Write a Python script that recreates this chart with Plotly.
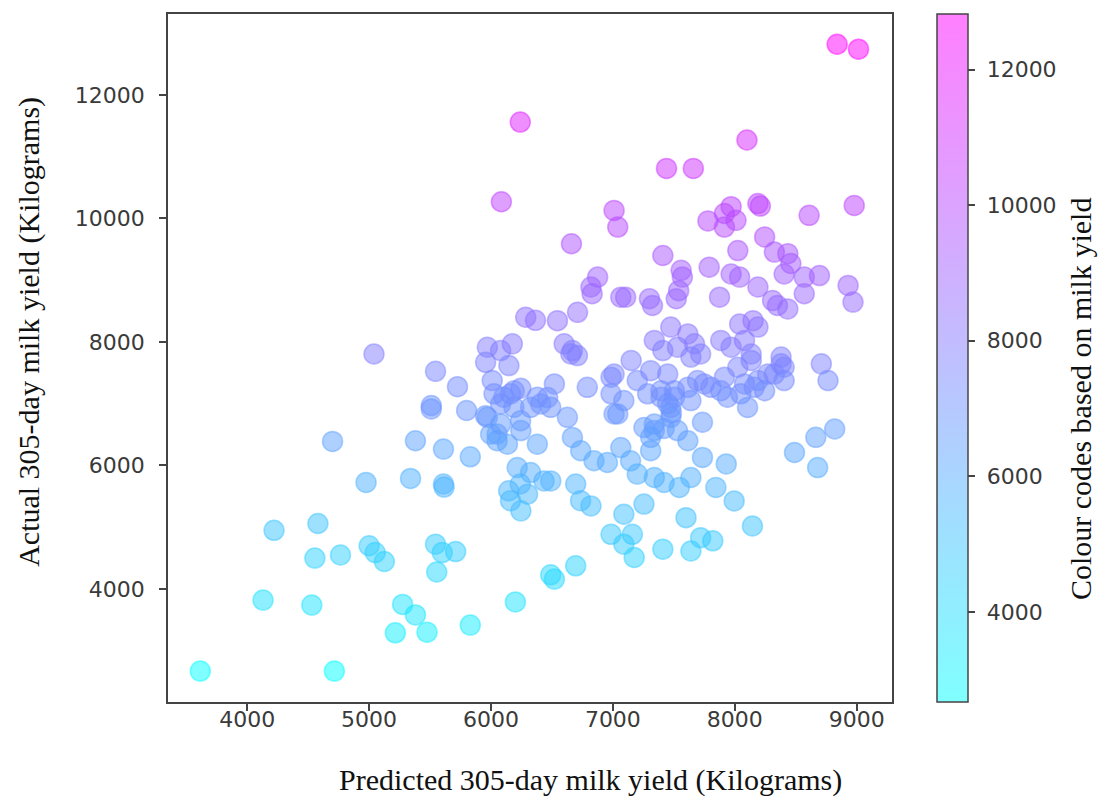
import plotly.graph_objects as go

# Predicted vs actual 305-day milk yield (kg) per cow
predicted = [
    3615, 4715, 4130, 4530, 4220, 4580, 4555, 4765, 4700, 4975, 5340, 5000, 5050, 5125,
    5275, 5380, 5215, 5475, 5830, 6200, 5545, 5600, 5710, 5555,
    5380, 5610, 5610, 5615, 5830, 5545, 5725, 5510, 5510, 5800, 5040,
    6490, 6520, 6695,
    5955, 6050, 6135, 6245, 6380, 6215, 6325, 6490, 6145, 6300, 6245, 6160, 6695, 6735, 6820,
    6627, 6668, 6736, 6845, 6955, 7010,
    6079, 6188, 6243, 6325, 6408, 6490, 5997, 6050, 6435, 5970, 6080, 6240,
    6190, 6105, 6380, 6010, 6160, 6245, 6520, 6465, 6025,
    5970, 6079, 6175, 5956, 6147, 6600, 6668, 6709, 6285, 6365, 6545, 6710, 6790, 6985, 6655,
    8840, 9015, 6240, 8100, 7440, 7660, 6085, 7010, 7040, 6660, 6875, 6820, 6830, 7065,
    7780, 7915, 7970, 8010, 7915, 8190, 8210, 8610, 8980,
    7410, 7560, 7570, 7790, 8025, 8245, 8325, 8435, 8460, 8405, 8570, 8695, 8040, 8190, 7970,
    7105, 7300, 7325, 7520, 7540, 7875, 8310, 8350, 8435, 8570, 8930, 8970,
    7475, 7615, 8040, 8150, 8190,
    7150, 7340, 7410, 7530, 7670, 7640, 7720, 7885, 7970, 8080, 8135, 8380, 8405, 8710, 8765,
    7010, 7200, 7310, 7450, 7505, 7695, 7805, 7915, 8025, 8135, 8080, 8190, 8270,
    6985, 7090, 7285, 7395, 7615, 7640,
    8820, 8665, 8490, 8680, 7735, 7615, 7735, 7930, 7640, 7545, 7420, 7340, 7845, 7995, 8145,
    7255, 7090, 7600, 6985, 7160, 7090, 7175, 7410, 7640, 7720, 7820,
    7040, 7255, 7340, 7475, 7065, 7145, 7200, 7310,
    7395, 7505, 7340, 7310, 7475, 7530, 7450, 7480, 7420,
    7750, 7885, 7940, 8050, 8105, 8160, 8245, 8325, 8380, 8405,
]
actual = [
    2670, 2670, 3820, 3740, 4950, 5060, 4500, 4550, 6390, 5725, 5790, 4700, 4590, 4445,
    3750, 3580, 3290, 3300, 3415, 3790, 4725, 4590, 4605, 4275,
    6400, 6265, 5700, 5650, 6140, 7525, 7275, 6970, 6915, 6890, 7805,
    4230, 4160, 4375,
    6805, 6510, 6345, 6565, 6345, 5965, 5885, 5750, 5590, 5535, 5265, 5430, 5700, 5430, 5345,
    6779, 6454, 6238, 6076, 6049, 6834,
    6996, 6941, 6725, 6941, 6996, 6941, 6509, 6400, 5750, 6780, 6670, 5700,
    7210, 7105, 7105, 7375, 7160, 7250, 7320, 7100, 7160,
    7914, 7860, 7969, 7670, 7617, 7969, 7860, 7779, 8400, 8350, 8345, 8480, 7265, 7430, 7807,
    12820, 12740, 11560, 11270, 10810, 10810, 10270, 10130, 9860, 9590, 9050, 8890, 8780, 8725,
    9960, 10080, 10190, 9970, 9860, 10240, 10200, 10050, 10210,
    9400, 9160, 9050, 9210, 9480, 9700, 9455, 9430, 9270, 9100, 9050, 9075, 9050, 8890, 9100,
    8725, 8700, 8590, 8700, 8830, 8725, 8670, 8590, 8535, 8780, 8915, 8645,
    8240, 8130, 8290, 8345, 8240,
    7700, 8025, 7860, 7915, 7970, 7755, 7805, 8025, 7915, 8025, 7805, 7755, 7590, 7645, 7375,
    7480, 7375, 7535, 7480, 7210, 7375, 7265, 7430, 7590, 7700, 7320, 7375, 7480,
    7160, 7050, 7160, 7105, 7265, 7050,
    6590, 6455, 6210, 5965, 6700, 6400, 6130, 6025, 5805, 5645, 5725, 5805, 5645, 5425, 5020,
    5375, 5210, 5155, 4885, 4885, 4725, 4510, 4645, 4615, 4830, 4780,
    6835, 6615, 6565, 6940, 6290, 6075, 5860, 6240,
    7210, 7105, 6670, 6455, 6780, 6565, 7000, 6850, 6600,
    7320, 7210, 7105, 7160, 6940, 7265, 7210, 7480, 7645, 7375,
]

x_ticks = [4000, 5000, 6000, 7000, 8000, 9000]
y_ticks = [4000, 6000, 8000, 10000, 12000]
cbar_ticktext = ["\u00a0" + str(v) for v in y_ticks]

x_title = "Predicted 305-day milk yield (Kilograms)"
y_title = "Actual 305-day milk yield (Kilograms)"
cbar_title = "Colour codes based on milk yield"

# "cool" colour map drawn at half transparency
cool_alpha = [[0.0, "rgba(0,255,255,0.5)"], [1.0, "rgba(255,0,255,0.5)"]]
c_lo, c_hi = min(actual), max(actual)

tick_font = dict(family="DejaVu Sans", size=22, color="#3a3a3a")
title_font = dict(family="Liberation Serif", size=30, color="#111111")

fig = go.Figure(
    go.Scatter(
        x=predicted,
        y=actual,
        mode="markers",
        marker=dict(
            size=20,
            color=actual,
            colorscale=cool_alpha,
            cmin=c_lo,
            cmax=c_hi,
            line=dict(width=1.5, color=actual, colorscale=cool_alpha, cmin=c_lo, cmax=c_hi),
            colorbar=dict(
                x=1.062,
                xanchor="left",
                xpad=0,
                y=0.5,
                yanchor="middle",
                ypad=0,
                len=1.0,
                lenmode="fraction",
                thickness=31,
                outlinewidth=1.5,
                outlinecolor="#444444",
                tickvals=y_ticks,
                ticktext=cbar_ticktext,
                ticks="outside",
                ticklen=7,
                tickwidth=1.5,
                tickcolor="#444444",
                tickfont=tick_font,
            ),
        ),
        showlegend=False,
    )
)

axis_common = dict(
    showgrid=False,
    zeroline=False,
    showline=True,
    mirror=True,
    linecolor="#444444",
    linewidth=1.5,
    ticks="outside",
    ticklen=7,
    tickwidth=1.5,
    tickcolor="#444444",
    tickfont=tick_font,
    tickformat="d",
)

fig.update_xaxes(range=[3350, 9290], tickvals=x_ticks, ticklabelstandoff=-10, **axis_common)
fig.update_yaxes(range=[2170, 13310], tickvals=y_ticks, ticklabelstandoff=10, **axis_common)

# Axis and colour-bar titles
title_common = dict(xref="paper", yref="paper", showarrow=False, font=title_font,
                    xanchor="center", yanchor="middle")
fig.add_annotation(text=x_title, x=0.583, y=-0.1134, **title_common)
fig.add_annotation(text=y_title, x=-0.192, y=0.538, textangle=-90, **title_common)
fig.add_annotation(text=cbar_title, x=1.2597, y=0.4404, textangle=-90, **title_common)

fig.update_layout(
    width=1104,
    height=801,
    margin=dict(l=168, r=212, t=14, b=99, autoexpand=False),
    plot_bgcolor="white",
    paper_bgcolor="white",
)

fig.write_html("out.html")
